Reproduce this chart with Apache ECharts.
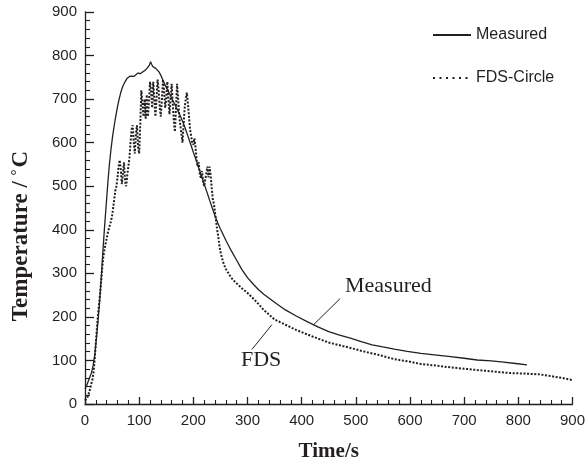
<!DOCTYPE html>
<html>
<head>
<meta charset="utf-8">
<script src="https://cdn.jsdelivr.net/npm/echarts@6/dist/echarts.min.js"></script>
<style>html,body{margin:0;padding:0;background:#fff}#c{width:588px;height:467px}</style>
</head>
<body>
<div id="c"></div>
<script>
// ---- data ----
var measuredTime = [0,3,6,9,12,15,18,21,24,27,30,33,36,39,42,45,48,51,54,57,60,63,66,70,74,78,82,86,90,94,98,102,106,110,114,117,119,121,123,125,128,131,134,137,141,145,150,155,160,165,170,175,180,185,190,195,200,205,210,215,220,225,230,235,240,245,250,255,260,270,280,290,300,310,320,330,340,355,370,390,410,430,450,470,490,510,530,550,571,595,620,645,675,700,724,750,773,795,816];
var measuredTemp = [35,42,52,62,72,88,112,150,190,235,290,350,405,455,505,550,585,615,640,662,683,700,715,730,740,748,752,753,752,756,760,758,762,765,770,773,778,786,780,775,772,770,767,762,752,740,727,715,702,690,677,664,650,633,615,597,578,561,542,524,505,487,468,450,432,416,402,389,376,352,330,308,290,276,263,252,243,229,216,202,189,177,166,158,151,143,136,131,126,121,116,113,109,105,101,99,96,93,90];
var fdsTime = [0,2,4,6,8,10,12,14,16,18,20,22,24,26,28,30,32,34,36,38,40,42,44,46,48,50,52,54,56,58,60,62,64,66,68,70,72,74,76,78,80,82,84,86,88,90,92,94,96,98,100,102,104,106,108,110,112,114,116,118,120,122,124,126,128,130,132,134,136,138,140,142,144,146,148,150,152,154,156,158,160,162,164,166,168,170,172,174,176,178,180,182,184,186,188,190,192,194,196,198,200,202,204,206,208,210,212,214,216,218,220,222,224,226,228,230,232,234,236,238,240,242,244,246,248,250,253,256,260,265,270,275,280,290,300,310,320,330,340,350,360,370,380,390,400,420,435,450,470,486,510,541,571,600,620,650,675,700,724,750,785,810,840,860,880,900];
var fdsTemp = [8,10,14,18,28,38,48,58,75,105,140,175,205,230,255,285,315,340,355,368,380,392,402,411,420,432,450,470,490,500,520,545,560,540,505,530,555,510,500,525,545,565,600,630,640,600,575,620,640,590,575,640,720,690,660,700,655,710,660,690,740,720,680,740,700,660,700,745,720,680,660,700,745,720,680,700,740,700,665,700,735,690,650,625,680,735,700,660,640,620,600,640,680,700,715,690,660,630,615,600,595,610,590,560,545,555,525,520,535,510,500,515,530,545,520,545,525,495,470,460,440,420,400,385,365,350,335,322,310,300,290,283,277,265,255,243,230,216,205,194,188,182,176,170,165,155,148,141,135,130,122,113,103,97,92,88,84,81,78,75,71,70,68,64,60,55];
var xTicks = [0,100,200,300,400,500,600,700,800,900];
var yTicks = [0,100,200,300,400,500,600,700,800,900];

function pairs(a,b){return a.map(function(v,i){return [v,b[i]];});}
var ink = '#231f20';
var chart = echarts.init(document.getElementById('c'));
var serif = '"Liberation Serif", "Times New Roman", serif';
var sans = '"Liberation Sans", Arial, sans-serif';
chart.setOption({
  animation: false,
  backgroundColor: '#fff',
  grid: {left: 85, right: 12, top: 12, bottom: 60},
  legend: {
    orient: 'vertical', left: 427, top: 22, itemWidth: 38, itemHeight: 16, itemGap: 27,
    textStyle: {color: ink, fontFamily: sans, fontSize: 16},
    itemStyle: {opacity: 0},
    data: [{name: 'Measured'}, {name: 'FDS-Circle', lineStyle: {type: [2, 4.5], width: 2}}]
  },
  xAxis: {
    type: 'value', min: 0, max: 900, interval: 100,
    name: 'Time/s', nameLocation: 'middle', nameGap: 37,
    nameTextStyle: {color: ink, fontFamily: serif, fontWeight: 'bold', fontSize: 21},
    axisLine: {show: true, lineStyle: {color: ink, width: 1.3}},
    axisTick: {show: true, inside: true, length: 7, lineStyle: {color: ink, width: 1.3}},
    minorTick: {show: true, splitNumber: 5, length: 4, lineStyle: {color: ink, width: 1.1}},
    splitLine: {show: false},
    axisLabel: {color: ink, fontFamily: sans, fontSize: 15, margin: 9,
      formatter: function(v){return xTicks.indexOf(v) >= 0 ? String(v) : '';}}
  },
  yAxis: {
    type: 'value', min: 0, max: 900, interval: 100,
    name: '{a|Temperature / }{b|\u00B0}{a|C}', nameLocation: 'middle', nameGap: 52,
    nameTextStyle: {color: ink, fontFamily: serif, fontWeight: 'bold', fontSize: 23, padding: [0, 56, 0, 0],
      rich: {a: {color: ink, fontFamily: serif, fontWeight: 'bold', fontSize: 23},
             b: {color: ink, fontFamily: serif, fontWeight: 'bold', fontSize: 15, verticalAlign: 'top', padding: [0, 2, 8, 0]}}},
    axisLine: {show: true, lineStyle: {color: ink, width: 1.3}},
    axisTick: {show: true, inside: true, length: 9, lineStyle: {color: ink, width: 1.3}},
    minorTick: {show: true, splitNumber: 5, length: 5, lineStyle: {color: ink, width: 1.1}},
    splitLine: {show: false},
    axisLabel: {color: ink, fontFamily: sans, fontSize: 15, margin: 8,
      formatter: function(v){return yTicks.indexOf(v) >= 0 ? String(v) : '';}}
  },
  series: [
    {name: 'Measured', type: 'line', data: pairs(measuredTime, measuredTemp), showSymbol: false, symbol: 'none',
     lineStyle: {color: ink, width: 1.3}, itemStyle: {color: ink}},
    {name: 'FDS-Circle', type: 'line', data: pairs(fdsTime, fdsTemp), showSymbol: false, symbol: 'none',
     lineStyle: {color: ink, width: 2, type: [2, 1.6]}, itemStyle: {color: ink}}
  ]
});

// annotations in data coordinates
var annText = [{text: 'Measured', at: [480, 246]}, {text: 'FDS', at: [288, 76]}];
var annLines = [[[471, 242], [422, 182]], [[345, 182], [308, 125]]];
var g = [];
annText.forEach(function(a){
  var p = chart.convertToPixel({gridIndex: 0}, a.at);
  g.push({type: 'text', x: p[0], y: p[1], style: {text: a.text, fill: ink, font: '22px ' + serif, textVerticalAlign: 'bottom'}});
});
annLines.forEach(function(l){
  var p1 = chart.convertToPixel({gridIndex: 0}, l[0]);
  var p2 = chart.convertToPixel({gridIndex: 0}, l[1]);
  g.push({type: 'line', shape: {x1: p1[0], y1: p1[1], x2: p2[0], y2: p2[1]}, style: {stroke: ink, lineWidth: 1}});
});
chart.setOption({graphic: g});
</script>
</body>
</html>
